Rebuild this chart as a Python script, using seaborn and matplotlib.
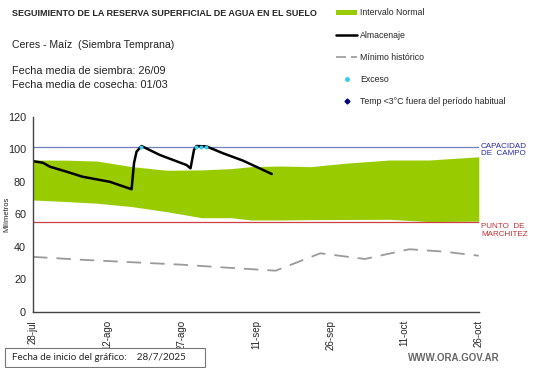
import numpy as np
import pandas as pd
import seaborn as sns
import matplotlib.pyplot as plt
from matplotlib.lines import Line2D
from matplotlib.patches import Patch, Rectangle

# ------------------------------------
# Datos (días desde el 28-jul, milímetros)
# ------------------------------------
banda_dias = [0, 7, 13, 20, 27, 34, 40, 44, 50, 56, 63, 72, 80, 90]
banda_sup = [93.4, 93.3, 92.7, 89.3, 87.1, 87.3, 88.1, 89.3, 89.7, 89.3, 91.4, 93.4, 93.4, 95.4]
banda_inf = [68.8, 67.8, 66.8, 64.7, 61.6, 57.9, 57.9, 56.5, 56.5, 56.7, 56.8, 56.9, 55.5, 55.8]

alm_dias = [0, 2, 3.4, 7, 10, 15.5, 19.9, 20.4, 20.9, 21.9, 25.6, 31, 31.8, 32.5, 33, 35, 38.4, 42.4, 48.2]
alm_vals = [92.7, 91.7, 89.3, 86.0, 83.1, 80.0, 75.4, 91.6, 98.5, 102.0, 96.5, 90.3, 88.3, 99.6, 102.0, 101.8, 97.5, 93.0, 84.8]

min_dias = [0, 10, 20, 30, 40, 49, 58, 67, 76, 83, 90]
min_vals = [33.8, 32.0, 30.5, 29.0, 27.0, 25.3, 36.0, 32.5, 38.5, 37.0, 34.5]

exc_dias = [21.9, 33, 34, 35]
exc_vals = [101.6, 101.6, 101.6, 101.6]

capacidad = 101.6
marchitez = 55.0

tick_dias = [0, 15, 30, 45, 60, 75, 90]
tick_labels = ["28-jul", "12-ago", "27-ago", "11-sep", "26-sep", "11-oct", "26-oct"]

df_alm = pd.DataFrame({"dia": alm_dias, "mm": alm_vals})
df_min = pd.DataFrame({"dia": min_dias, "mm": min_vals})
df_exc = pd.DataFrame({"dia": exc_dias, "mm": exc_vals})

# ------------------------------------
# Estilo
# ------------------------------------
sns.set_style("white")
plt.rcParams["font.family"] = ["Liberation Sans", "DejaVu Sans"]

fig = plt.figure(figsize=(5.41, 3.68), dpi=100)
ax = fig.add_axes([0.061, 0.1527, 0.824, 0.530])

verde = "#99CC00"
ax.fill_between(banda_dias, banda_inf, banda_sup, color=verde, linewidth=0)
ax.axhline(capacidad, color="#7080C0", lw=0.9)
ax.axhline(marchitez, color="#CC4040", lw=0.9)

sns.lineplot(data=df_min, x="dia", y="mm", ax=ax, color="#9A9A9A", lw=1.3,
             linestyle=(0, (8, 5)))
sns.lineplot(data=df_alm, x="dia", y="mm", ax=ax, color="black", lw=1.8)
sns.scatterplot(data=df_exc, x="dia", y="mm", ax=ax, color="#33CCEE", s=8,
                linewidth=0, zorder=5)

ax.set_xlim(0, 90)
ax.set_ylim(0, 120)
ax.set_yticks(range(0, 121, 20))
ax.set_xticks(tick_dias)
ax.set_xticklabels(tick_labels, rotation=90, fontsize=7, ha="center", va="top")
ax.tick_params(axis="y", labelsize=7.8, pad=2)
ax.tick_params(axis="x", pad=3)
ax.tick_params(axis="both", direction="out", length=3, width=0.8, color="#444444")
ax.set_xlabel("")
ax.set_ylabel("Milímetros", fontsize=5.5)
ax.yaxis.set_label_coords(-0.05, 0.5)
sns.despine(ax=ax)
for s in ["left", "bottom"]:
    ax.spines[s].set_color("#444444")
    ax.spines[s].set_linewidth(1.0)

# Etiquetas a la derecha
ax.text(1.005, capacidad - 2, "CAPACIDAD\nDE  CAMPO", transform=ax.get_yaxis_transform(),
        color="#2A2AA0", fontsize=5.8, va="center", ha="left", linespacing=1.1)
ax.text(1.005, marchitez - 5, "PUNTO  DE\nMARCHITEZ", transform=ax.get_yaxis_transform(),
        color="#C03030", fontsize=5.8, va="center", ha="left", linespacing=1.1)

# Textos de cabecera
fig.text(12 / 541, 1 - 14 / 368, "SEGUIMIENTO DE LA RESERVA SUPERFICIAL DE AGUA EN EL SUELO",
         fontsize=6.5, fontweight="bold", va="center")
fig.text(12 / 541, 1 - 45 / 368, "Ceres - Maíz  (Siembra Temprana)", fontsize=7.6, va="center",
         color="#222222")
fig.text(12 / 541, 1 - 71 / 368, "Fecha media de siembra: 26/09", fontsize=7.8, va="center",
         color="#222222")
fig.text(12 / 541, 1 - 85 / 368, "Fecha media de cosecha: 01/03", fontsize=7.8, va="center",
         color="#222222")

# Leyenda
handles = [
    Patch(facecolor=verde, edgecolor="none"),
    Line2D([], [], color="black", lw=1.8),
    Line2D([], [], color="#9A9A9A", lw=1.2, linestyle=(0, (6, 3))),
    Line2D([], [], color="#33CCEE", marker="o", markersize=2.5, lw=0),
    Line2D([], [], color="#000080", marker="D", markersize=2.5, lw=0),
]
labels = ["Intervalo Normal", "Almacenaje", "Mínimo histórico", "Exceso",
          "Temp <3°C fuera del período habitual"]
fig.legend(handles, labels, loc="upper left", bbox_to_anchor=(332 / 541, 1 - 4 / 368),
           frameon=False, fontsize=6.3, handlelength=2.4, handleheight=0.6,
           labelspacing=1.5, handletextpad=0.35, borderpad=0)

# Pie
fig.patches.append(Rectangle((5 / 541, 1 - 367 / 368), 200 / 541, 19 / 368,
                             transform=fig.transFigure, facecolor="white",
                             edgecolor="#777777", lw=0.8))
fig.text(12 / 541, 1 - 357 / 368, "Fecha de inicio del gráfico:    28/7/2025",
         fontsize=7.1, va="center", family=["Lato", "DejaVu Sans"])
fig.text(500 / 541, 1 - 358 / 368, "WWW.ORA.GOV.AR", fontsize=7, fontweight="bold",
         color="#666666", ha="right", va="center")

fig.savefig("out.png", dpi=100)
